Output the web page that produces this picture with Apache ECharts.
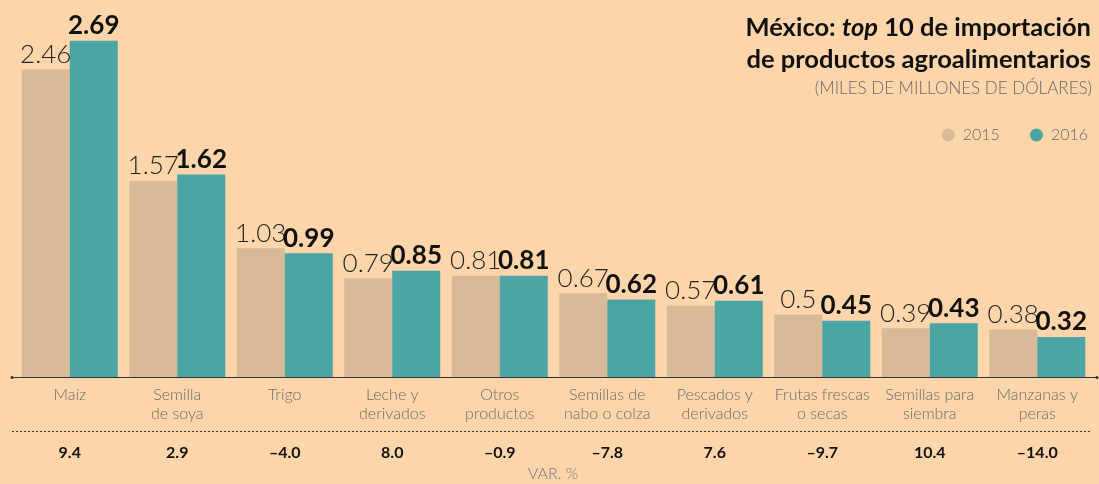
<!DOCTYPE html>
<html><head><meta charset="utf-8">
<script src="https://cdn.jsdelivr.net/npm/echarts@6/dist/echarts.min.js"></script>
<style>html,body{margin:0;padding:0;background:#FCD5AB;}#c{width:1099px;height:484px;}</style>
</head><body><div id="c"></div>
<script>
const categories = ['Maíz','Semilla\nde soya','Trigo','Leche y\nderivados','Otros\nproductos','Semillas de\nnabo o colza','Pescados y\nderivados','Frutas frescas\no secas','Semillas para\nsiembra','Manzanas y\nperas'];
const values2015 = [2.46,1.57,1.03,0.79,0.81,0.67,0.57,0.5,0.39,0.38];
const values2016 = [2.69,1.62,0.99,0.85,0.81,0.62,0.61,0.45,0.43,0.32];
const varPct = ['9.4','2.9','–4.0','8.0','–0.9','–7.8','7.6','–9.7','10.4','–14.0'];

const FONT = 'Lato, "Open Sans", sans-serif';
const chart = echarts.init(document.getElementById('c'));
chart.setOption({
  backgroundColor: '#FCD5AB',
  animation: false,
  legend: {
    right: 6, top: 122,
    itemWidth: 13, itemHeight: 13, itemGap: 30,
    icon: 'circle',
    textStyle: {fontFamily: FONT, fontWeight: 300, fontSize: 16, color: '#666', padding: [0, 0, 0, 3]},
    data: ['2015','2016']
  },
  grid: {left: 16, right: 8, top: 2, bottom: 107},
  xAxis: [{
    type: 'category', data: categories,
    axisLine: {show: false}, axisTick: {show: false},
    axisLabel: {fontFamily: FONT, fontWeight: 300, fontSize: 16, color: '#6a6a6a', lineHeight: 19, margin: 8, interval: 0}
  },{
    type: 'category', data: varPct, position: 'bottom', offset: 60,
    axisLine: {show: false}, axisTick: {show: false},
    axisLabel: {fontFamily: FONT, fontWeight: 'bold', fontSize: 16, color: '#111', margin: 8, interval: 0}
  }],
  yAxis: {type: 'value', min: 0, max: 3, show: false},
  series: [{
    name: '2015', type: 'bar', data: values2015, barWidth: 48, barGap: '0%',
    itemStyle: {color: '#D9BA98'},
    label: {show: true, position: 'top', distance: 2, fontFamily: FONT, fontWeight: 300, fontSize: 26, color: '#222'}
  },{
    name: '2016', type: 'bar', data: values2016, barWidth: 48,
    itemStyle: {color: '#4BA5A5'},
    label: {show: true, position: 'top', distance: 2, fontFamily: FONT, fontWeight: 'bold', fontSize: 26, color: '#111'}
  }],
  graphic: [
    {type: 'text', x: 1091, y: 28, style: {
      text: '{b|México: }{i|top}{b| 10 de importación}', align: 'right', verticalAlign: 'middle',
      rich: {
        b: {fontFamily: FONT, fontWeight: 'bold', fontSize: 25.5, fill: '#111'},
        i: {fontFamily: FONT, fontWeight: 'bold', fontStyle: 'italic', fontSize: 25.5, fill: '#111'}
      }}},
    {type: 'text', x: 1091, y: 60, style: {text: 'de productos agroalimentarios', align: 'right', verticalAlign: 'middle',
      fontFamily: FONT, fontWeight: 'bold', fontSize: 25.5, fill: '#111'}},
    {type: 'text', x: 1092, y: 89, style: {text: '(MILES DE MILLONES DE DÓLARES)', align: 'right', verticalAlign: 'middle',
      fontFamily: FONT, fontWeight: 300, fontSize: 17, fill: '#666'}},
    {type: 'line', shape: {x1: 12, y1: 377.5, x2: 1097, y2: 377.5}, style: {stroke: '#333', lineWidth: 1.2}},
    {type: 'circle', shape: {cx: 12, cy: 377.5, r: 1.5}, style: {fill: '#333'}},
    {type: 'circle', shape: {cx: 1097, cy: 377.5, r: 1.5}, style: {fill: '#333'}},
    {type: 'line', shape: {x1: 12, y1: 431.5, x2: 1092, y2: 431.5}, style: {stroke: '#333', lineWidth: 1, lineDash: [2, 2]}},
    {type: 'text', x: 553, y: 474, style: {text: 'VAR. %', align: 'center', verticalAlign: 'middle', fontFamily: FONT, fontWeight: 300, fontSize: 16, fill: '#777'}}
  ]
});
</script></body></html>
